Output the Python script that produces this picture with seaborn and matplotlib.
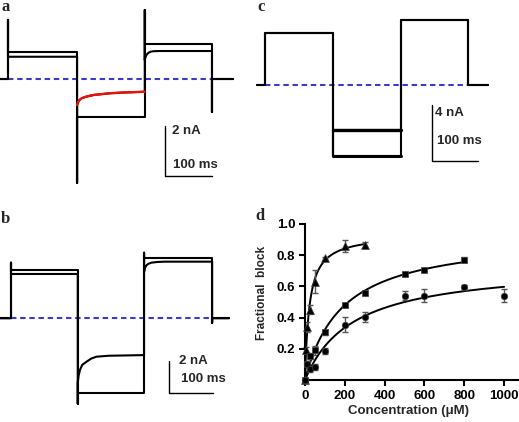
import numpy as np
import pandas as pd
import matplotlib
matplotlib.use('Agg')
import matplotlib.pyplot as plt
import seaborn as sns

sns.set_style('white')
plt.rcParams['font.family'] = ['Liberation Sans', 'DejaVu Sans']
plt.rcParams['font.weight'] = 'bold'

# ---------------- traces (ms, nA) ----------------
# panel a
a_steps = [0, 147, 291, 434]
a_span = (-17, 479)
a_spikes = [2.36, -4.16, 2.76, -1.32]
a_lvl_1 = [1.07, -1.53, 1.39]
a_lvl_2_first = 0.89
a_relax_t = [0, 2, 5, 10, 17, 25, 35, 50, 70, 100, 144]
a_relax_i = [-1.04, -0.93, -0.84, -0.77, -0.72, -0.68, -0.64, -0.61, -0.57, -0.54, -0.51]
a_tail_t = [0, 2, 5, 8, 12, 18, 30, 60, 143]
a_tail_i = [0.76, 0.9, 1.0, 1.05, 1.09, 1.11, 1.12, 1.12, 1.12]

# panel b
b_steps = [0, 150, 299, 452]
b_span = (-25, 490)
b_spikes = [3.48, -5.33, 4.10, -0.29]
b_lvl_1 = [3.02, -4.65, 3.75]
b_lvl_2_first = 2.77
b_relax_t = [0, 2, 5, 10, 20, 30, 42, 70, 149]
b_relax_i = [-4.02, -3.58, -3.23, -2.91, -2.71, -2.52, -2.40, -2.34, -2.30]
b_tail_t = [0, 2, 6, 10, 17, 30, 47, 153]
b_tail_i = [2.91, 3.15, 3.33, 3.41, 3.48, 3.52, 3.54, 3.54]

# panel c
c_steps = [0, 147, 295, 441]
c_span = (-17, 485)
c_lvl_1 = [3.69, -5.07, 4.64]
c_lvl_2 = [3.69, -3.20, 4.64]

# ---------------- dose response ----------------
tri_conc = [0, 5, 10, 25, 50, 100, 200, 300]
tri_block = [0, 0.19, 0.34, 0.45, 0.63, 0.78, 0.86, 0.865]
tri_err = [0, 0.02, 0.03, 0.03, 0.075, 0.01, 0.04, 0.02]

sq_conc = [0, 10, 25, 50, 100, 200, 300, 500, 600, 800]
sq_block = [0, 0.10, 0.155, 0.19, 0.305, 0.48, 0.555, 0.68, 0.705, 0.772]
sq_err = [0, 0.02, 0.02, 0.03, 0.015, 0.01, 0.01, 0.015, 0.008, 0.015]

circ_conc = [0, 10, 25, 50, 100, 200, 300, 500, 600, 800, 1000]
circ_block = [0, 0.10, 0.07, 0.085, 0.185, 0.355, 0.405, 0.54, 0.54, 0.595, 0.54]
circ_err = [0, 0.02, 0.02, 0.02, 0.02, 0.05, 0.03, 0.03, 0.043, 0.015, 0.042]

W, H = 519, 422
fig = plt.figure(figsize=(W / 100, H / 100), dpi=100)
LW = 1.5
BLUE = '#3b3bc8'


def flat(lvl, dur):
    return [0, dur], [lvl, lvl]


def build_trace(steps, span, segs, spikes):
    t = [span[0], steps[0]]
    y = [0, 0]
    for k, (st, si) in enumerate(segs):
        t0 = steps[k]
        t += [t0, t0]
        y += [spikes[k], si[0]]
        t += [t0 + x for x in st]
        y += list(si)
    t += [steps[-1], steps[-1], span[1]]
    y += [spikes[-1], 0, 0]
    return t, y


def trace_axes(box, t_px0, base_py, px_ms, px_na):
    left, top, w, h = box
    ax = fig.add_axes([left / W, 1 - (top + h) / H, w / W, h / H])
    ax.set_xlim((left - t_px0) / px_ms, (left + w - t_px0) / px_ms)
    ax.set_ylim((base_py - (top + h)) / px_na, (base_py - top) / px_na)
    ax.axis('off')
    return ax


def scale_bar(ax, t0, i0, dt, di, label_i, tx, ty_i, ty_t):
    ax.plot([t0, t0, t0 + dt], [i0 + di, i0, i0], color='black', lw=1.0)
    ax.text(tx, ty_i, label_i, fontsize=9.5, va='center', ha='left')
    ax.text(tx + 3, ty_t, '100 ms', fontsize=9.5, va='center', ha='left')


def durs(steps):
    return [steps[1] - steps[0], steps[2] - steps[1], steps[3] - steps[2]]


# ---- panel a
ax_a = trace_axes((0, 0, 240, 195), 8, 79, 0.47, 25)
d = durs(a_steps)
ax_a.plot([0, a_steps[-1]], [0, 0], color=BLUE, lw=LW, ls=(0, (2.6, 1.8)), zorder=1)
t1, i1 = build_trace(a_steps, a_span, [flat(v, d[k]) for k, v in enumerate(a_lvl_1)], a_spikes)
t2, i2 = build_trace(a_steps, a_span,
                     [flat(a_lvl_2_first, d[0]), (a_relax_t, a_relax_i), (a_tail_t, a_tail_i)], a_spikes)
ax_a.plot(t1, i1, color='black', lw=LW)
ax_a.plot(t2, i2, color='black', lw=LW)
ax_a.plot([a_steps[1] + x for x in a_relax_t], a_relax_i, color='#e8140c', lw=LW + 0.2, zorder=3)
scale_bar(ax_a, 334, -3.88, 100, 2, '2 nA', 348, -2.07, -3.46)

# ---- panel b
ax_b = trace_axes((0, 200, 240, 215), 11, 318.3, 0.445, 16)
d = durs(b_steps)
ax_b.plot([0, b_steps[-1]], [0, 0], color=BLUE, lw=LW, ls=(0, (2.6, 1.8)), zorder=1)
t1, i1 = build_trace(b_steps, b_span, [flat(v, d[k]) for k, v in enumerate(b_lvl_1)], b_spikes)
t2, i2 = build_trace(b_steps, b_span,
                     [flat(b_lvl_2_first, d[0]), (b_relax_t, b_relax_i), (b_tail_t, b_tail_i)], b_spikes)
ax_b.plot(t1, i1, color='black', lw=LW)
ax_b.plot(t2, i2, color='black', lw=LW)
scale_bar(ax_b, 355, -4.65, 100, 2, '2 nA', 378, -2.65, -3.82)

# ---- panel c
ax_c = trace_axes((250, 0, 260, 195), 265, 85, 0.46, 14)
d = durs(c_steps)
ax_c.plot([0, c_steps[-1]], [0, 0], color=BLUE, lw=LW, ls=(0, (2.6, 1.8)), zorder=1)
t1, i1 = build_trace(c_steps, c_span, [flat(v, d[k]) for k, v in enumerate(c_lvl_1)],
                     [c_lvl_1[0], c_lvl_1[1], c_lvl_1[2], 0])
t2, i2 = build_trace(c_steps, c_span, [flat(v, d[k]) for k, v in enumerate(c_lvl_2)],
                     [c_lvl_2[0], c_lvl_1[1], c_lvl_2[2], 0])
ax_c.plot(t1, i1, color='black', lw=LW)
ax_c.plot(t2, i2, color='black', lw=LW)
ax_c.plot([c_steps[1], c_steps[2]], [c_lvl_1[1], c_lvl_1[1]], color='black', lw=2.2)
ax_c.plot([c_steps[1], c_steps[2]], [c_lvl_2[1], c_lvl_2[1]], color='black', lw=2.4)
scale_bar(ax_c, 362, -5.43, 100, 4, '4 nA', 370, -2.02, -3.99)

# ---- panel d
ax_d = fig.add_axes([305 / W, 1 - 380 / H, 213 / W, 156 / H])


def fit_hyperbola(conc, block):
    c = np.asarray(conc, float)
    y = np.asarray(block, float)
    best = None
    for k in np.linspace(1, 1500, 3000):
        f = c / (c + k)
        bmax = (f @ y) / (f @ f)
        sse = ((y - bmax * f) ** 2).sum()
        if best is None or sse < best[0]:
            best = (sse, bmax, k)
    return best[1], best[2]


series = [('tri', tri_conc, tri_block, tri_err, '^', 32),
          ('sq', sq_conc, sq_block, sq_err, 's', 20),
          ('circ', circ_conc, circ_block, circ_err, 'o', 22)]
for name, conc, block, err, mk, ms in series:
    bmax, k = fit_hyperbola(conc, block)
    xs = np.linspace(0, max(conc), 300)
    fit_df = pd.DataFrame({'conc': xs, 'block': bmax * xs / (xs + k)})
    sns.lineplot(data=fit_df, x='conc', y='block', color='black', lw=1.4, ax=ax_d)
    ax_d.errorbar(conc, block, yerr=err, fmt='none', ecolor='#555555',
                  elinewidth=1, capsize=2.5, capthick=1, clip_on=False)
    pts = pd.DataFrame({'conc': conc, 'block': block})
    sns.scatterplot(data=pts, x='conc', y='block', marker=mk, s=ms, color='black',
                    edgecolor='#444444', linewidth=0.5, ax=ax_d, clip_on=False, zorder=4)

ax_d.set_xlim(0, 1070)
ax_d.set_ylim(0, 1.0)
ax_d.set_xticks([0, 200, 400, 600, 800, 1000])
ax_d.set_yticks([0.2, 0.4, 0.6, 0.8, 1.0])
ax_d.set_yticklabels(['0.2', '0.4', '0.6', '0.8', '1.0'])
for s in ['top', 'right']:
    ax_d.spines[s].set_visible(False)
for s in ['left', 'bottom']:
    ax_d.spines[s].set_linewidth(1.5)
    ax_d.spines[s].set_color('black')
ax_d.tick_params(direction='out', length=4, width=1.5, labelsize=9.5, pad=3,
                 bottom=True, left=True, colors='black')
ax_d.set_xlabel('Concentration (\u03bcM)', fontsize=9.5, fontweight='bold')
ax_d.set_ylabel('Fractional  block', fontsize=8.5, fontweight='bold')
ax_d.xaxis.set_label_coords(0.488, -0.16)
ax_d.yaxis.set_label_coords(-0.175, 0.555)

# panel letters
for letter, x, y in [('a', 2, 11), ('b', 1, 223), ('c', 257, 11), ('d', 255, 220)]:
    fig.text(x / W, 1 - y / H, letter, fontsize=12, fontweight='bold',
             family='Liberation Serif', va='baseline', ha='left')

fig.savefig('out.png', dpi=100)
